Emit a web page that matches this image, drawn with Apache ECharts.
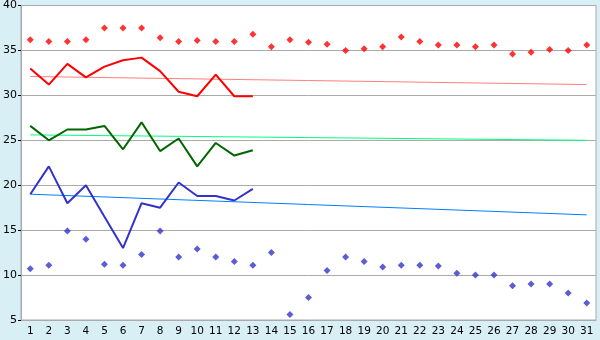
<!DOCTYPE html>
<html>
<head>
<meta charset="utf-8">
<script src="https://cdn.jsdelivr.net/npm/echarts@6/dist/echarts.min.js"></script>
<style>
html,body{margin:0;padding:0;background:#d9eff6;}
#c{width:600px;height:340px;}
</style>
</head>
<body>
<div id="c"></div>
<script>
var days = ['1','2','3','4','5','6','7','8','9','10','11','12','13','14','15','16','17','18','19','20','21','22','23','24','25','26','27','28','29','30','31'];
var yTicks = [5, 10, 15, 20, 25, 30, 35, 40];

var recordHigh = [36.2,36.0,36.0,36.2,37.5,37.5,37.5,36.4,36.0,36.1,36.0,36.0,36.8,35.4,36.2,35.9,35.7,35.0,35.2,35.4,36.5,36.0,35.6,35.6,35.4,35.6,34.6,34.8,35.1,35.0,35.6];
var recordLow = [10.7,11.1,14.9,14.0,11.2,11.1,12.3,14.9,12.0,12.9,12.0,11.5,11.1,12.5,5.6,7.5,10.5,12.0,11.5,10.9,11.1,11.1,11.0,10.2,10.0,10.0,8.8,9.0,9.0,8.0,6.9];

var maxTemp = [33.0,31.2,33.5,32.0,33.2,33.9,34.2,32.7,30.4,29.9,32.3,29.9,29.9];
var meanTemp = [26.6,25.0,26.2,26.2,26.6,24.0,27.0,23.8,25.2,22.1,24.7,23.3,23.9];
var minTemp = [19.0,22.1,18.0,20.0,16.5,13.0,18.0,17.5,20.3,18.8,18.8,18.3,19.6];

var normalMax = [32.1, 31.2];   // day 1, day 31
var normalMean = [25.6, 25.0];
var normalMin = [19.0, 16.7];

function trend(v){ return [[days[0], v[0]], [days[days.length-1], v[1]]]; }

var chart = echarts.init(document.getElementById('c'));
chart.setOption({
  animation: false,
  backgroundColor: '#d9eff6',
  grid: {left: 20, top: 5, right: 4, bottom: 20, show: true, backgroundColor: '#ffffff', borderColor: '#aaaaaa', borderWidth: 1},
  xAxis: {
    type: 'category', data: days, boundaryGap: true,
    axisLine: {lineStyle: {color: '#aaaaaa'}},
    axisTick: {alignWithLabel: true, length: 5, lineStyle: {color: '#000'}},
    axisLabel: {color: '#000', fontSize: 10.5, fontFamily: 'DejaVu Sans', margin: 6, interval: 0}
  },
  yAxis: {
    type: 'value', min: yTicks[0], max: yTicks[yTicks.length-1], interval: 5,
    axisLine: {show: true, lineStyle: {color: '#aaaaaa'}},
    axisTick: {show: true, length: 3, lineStyle: {color: '#000'}},
    axisLabel: {color: '#000', fontSize: 11, fontFamily: 'DejaVu Sans', margin: 4},
    splitLine: {lineStyle: {color: '#aaaaaa'}}
  },
  series: [
    {type: 'line', data: trend(normalMax), symbol: 'none', lineStyle: {color: '#ff7f7f', width: 1}, z: 1},
    {type: 'line', data: trend(normalMean), symbol: 'none', lineStyle: {color: '#00ff7f', width: 1}, z: 1},
    {type: 'line', data: trend(normalMin), symbol: 'none', lineStyle: {color: '#0080ff', width: 1}, z: 1},
    {type: 'line', data: maxTemp, symbol: 'none', lineStyle: {color: '#ff0000', width: 2}, z: 3},
    {type: 'line', data: meanTemp, symbol: 'none', lineStyle: {color: '#006600', width: 2}, z: 3},
    {type: 'line', data: minTemp, symbol: 'none', lineStyle: {color: '#3333cc', width: 2}, z: 3},
    {type: 'scatter', data: recordHigh, symbol: 'diamond', symbolSize: 7, itemStyle: {color: '#ff0000'}, z: 4},
    {type: 'scatter', data: recordLow, symbol: 'diamond', symbolSize: 7, itemStyle: {color: '#3333cc'}, z: 4}
  ]
});
</script>
</body>
</html>
